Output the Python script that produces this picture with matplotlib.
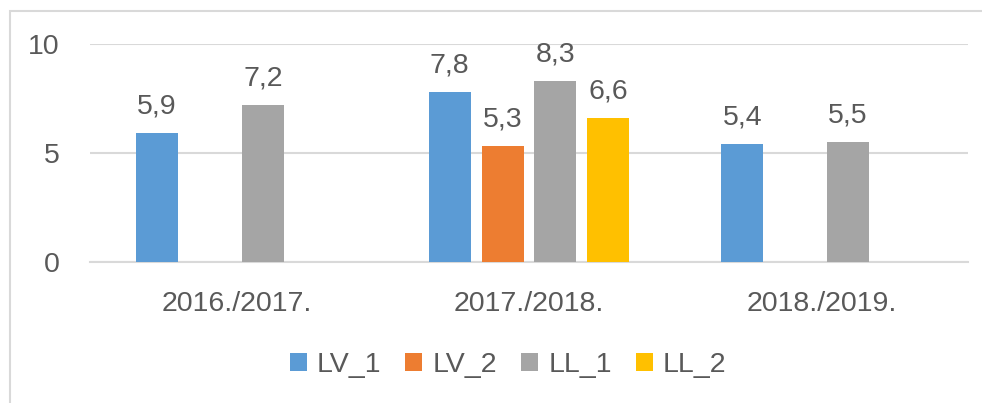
import numpy as np
import matplotlib.pyplot as plt
from matplotlib.patches import Rectangle

# data
categories = ['2016./2017.', '2017./2018.', '2018./2019.']
series_names = ['LV_1', 'LV_2', 'LL_1', 'LL_2']
lv_1 = [5.9, 7.8, 5.4]
lv_2 = [None, 5.3, None]
ll_1 = [7.2, 8.3, 5.5]
ll_2 = [None, 6.6, None]
colors = ['#5B9BD5', '#ED7D31', '#A5A5A5', '#FFC000']

plt.rcParams['font.family'] = ['Liberation Sans', 'DejaVu Sans']
text_color = '#595959'
fs = 20.5

fig = plt.figure(figsize=(9.82, 4.03), dpi=100)
ax = fig.add_axes([90 / 982, 1 - 262 / 403, (968 - 90) / 982, (262 - 44) / 403])

# light chart-area border (only left/top visible)
fig.patches.append(Rectangle((10 / 982, -0.2), 1.2, 1 - 11 / 403 + 0.2,
                             transform=fig.transFigure, fill=False,
                             edgecolor='#D9D9D9', linewidth=1.5))

x = np.arange(len(categories))
width = 0.1435
step = 0.181
all_series = [lv_1, lv_2, ll_1, ll_2]
for i, (name, vals, col) in enumerate(zip(series_names, all_series, colors)):
    xs = [x[j] + (i - 1.5) * step for j in range(len(vals)) if vals[j] is not None]
    hs = [v for v in vals if v is not None]
    bars = ax.bar(xs, hs, width=width, color=col, label=name, zorder=3)
    for b, v in zip(bars, hs):
        ax.annotate(f'{v:.1f}'.replace('.', ','), (b.get_x() + b.get_width() / 2, v),
                    xytext=(0, 10), textcoords='offset points', ha='center', va='bottom',
                    fontsize=fs, color=text_color)

ax.set_xlim(-0.5, 2.5)
ax.set_ylim(0, 10)
ax.set_yticks([0, 5, 10])
ax.set_xticks(x)
ax.set_xticklabels(categories)
ax.yaxis.grid(True, color='#D9D9D9', linewidth=1.5, zorder=0)
ax.set_axisbelow(True)
for s in ['top', 'right', 'left']:
    ax.spines[s].set_visible(False)
ax.spines['bottom'].set_color('#D9D9D9')
ax.spines['bottom'].set_linewidth(1.5)
ax.tick_params(axis='both', length=0, labelsize=fs, labelcolor=text_color)
ax.tick_params(axis='y', pad=22)
ax.tick_params(axis='x', pad=21)

fig.legend(loc='center', bbox_to_anchor=(508 / 982, 1 - 365 / 403), ncol=4,
           frameon=False, fontsize=fs, labelcolor=text_color,
           handlelength=0.6, handleheight=0.6, handletextpad=0.35, columnspacing=0.85)

fig.savefig('out.png', dpi=100)
